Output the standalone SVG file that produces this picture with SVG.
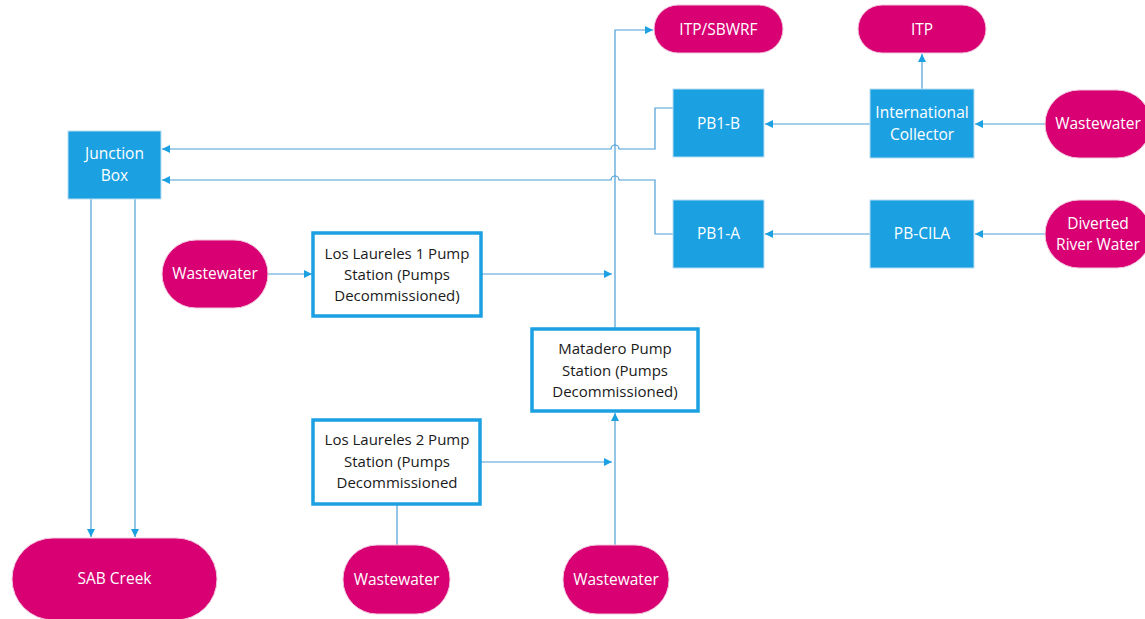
<svg xmlns="http://www.w3.org/2000/svg" width="1145" height="619" viewBox="0 0 1145 619">
<style>
.term{fill:#d80073;stroke:#f0c8dc;stroke-width:1}
.proc{fill:#1ba1e2;stroke:#b9dcf2;stroke-width:1}
.ps{fill:#ffffff;stroke:#1ba1e2;stroke-width:3.5}
.wt{font-family:"Open Sans","Liberation Sans",sans-serif;font-size:15.5px;fill:#ffffff;text-anchor:middle}
.dt{font-family:"Open Sans","Liberation Sans",sans-serif;font-size:15px;fill:#1a1a1a;text-anchor:middle}
.c{fill:none;stroke:#4a9ed6;stroke-width:1.2}
</style>
<defs>
<marker id="a" viewBox="0 0 10 10" refX="10" refY="5" markerWidth="9" markerHeight="8" markerUnits="userSpaceOnUse" orient="auto">
<path d="M0,0 L10,5 L0,10 z" fill="#1ba1e2"/>
</marker>
</defs>
<rect width="1145" height="619" fill="#ffffff"/>

<g id="connectors">
<path class="c" d="M615,328 V30 H653" marker-end="url(#a)"/>
<path class="c" d="M922,89 V54" marker-end="url(#a)"/>
<path class="c" d="M870,124 H765" marker-end="url(#a)"/>
<path class="c" d="M1045,124 H975" marker-end="url(#a)"/>
<path class="c" d="M870,234 H765" marker-end="url(#a)"/>
<path class="c" d="M1045,234 H975" marker-end="url(#a)"/>
<path class="c" d="M673,108 H655 V149 H619 A4,4 0 0 0 611,149 H162" marker-end="url(#a)"/>
<path class="c" d="M673,234 H655 V180 H619 A4,4 0 0 0 611,180 H162" marker-end="url(#a)"/>
<path class="c" d="M91,199 V537" marker-end="url(#a)"/>
<path class="c" d="M135,199 V537" marker-end="url(#a)"/>
<path class="c" d="M268,274 H312" marker-end="url(#a)"/>
<path class="c" d="M482,274 H612" marker-end="url(#a)"/>
<path class="c" d="M481,462 H612" marker-end="url(#a)"/>
<path class="c" d="M397,504 V545"/>
<path class="c" d="M615,545 V413" marker-end="url(#a)"/>
</g>

<g id="itp-sbwrf"><rect class="term" x="654" y="5" width="129" height="48" rx="24"/><text class="wt" x="718.5" y="34.5">ITP/SBWRF</text></g>
<g id="itp"><rect class="term" x="858" y="5" width="128" height="48" rx="24"/><text class="wt" x="922" y="34.5">ITP</text></g>
<g id="pb1-b"><rect class="proc" x="673" y="89" width="91" height="68"/><text class="wt" x="718.5" y="128.5">PB1-B</text></g>
<g id="intl-collector"><rect class="proc" x="870" y="89" width="104" height="69"/><text class="wt" x="922" y="118">International</text><text class="wt" x="922" y="139.5">Collector</text></g>
<g id="wastewater-ic"><rect class="term" x="1045" y="90" width="106" height="68" rx="34"/><text class="wt" x="1098" y="129">Wastewater</text></g>
<g id="pb1-a"><rect class="proc" x="673" y="200" width="91" height="68"/><text class="wt" x="718.5" y="239">PB1-A</text></g>
<g id="pb-cila"><rect class="proc" x="870" y="200" width="104" height="68"/><text class="wt" x="922" y="239">PB-CILA</text></g>
<g id="diverted"><rect class="term" x="1045" y="200" width="106" height="68" rx="34"/><text class="wt" x="1098" y="228.5">Diverted</text><text class="wt" x="1098" y="249.5">River Water</text></g>
<g id="junction-box"><rect class="proc" x="68" y="131" width="93" height="68"/><text class="wt" x="114.5" y="159">Junction</text><text class="wt" x="114.5" y="181">Box</text></g>
<g id="wastewater-ll1"><rect class="term" x="162" y="240" width="106" height="68" rx="34"/><text class="wt" x="215" y="279">Wastewater</text></g>
<g id="ll1"><rect class="ps" x="313" y="233" width="168" height="83"/><text class="dt" x="397" y="259">Los Laureles 1 Pump</text><text class="dt" x="397" y="280">Station (Pumps</text><text class="dt" x="397" y="301">Decommissioned)</text></g>
<g id="matadero"><rect class="ps" x="532" y="329" width="166" height="82"/><text class="dt" x="615" y="354">Matadero Pump</text><text class="dt" x="615" y="376">Station (Pumps</text><text class="dt" x="615" y="397">Decommissioned)</text></g>
<g id="ll2"><rect class="ps" x="313" y="420" width="167" height="84"/><text class="dt" x="397" y="445">Los Laureles 2 Pump</text><text class="dt" x="397" y="467">Station (Pumps</text><text class="dt" x="397" y="488">Decommissioned</text></g>
<g id="sab-creek"><rect class="term" x="12" y="538" width="205" height="82" rx="41"/><text class="wt" x="114.5" y="584">SAB Creek</text></g>
<g id="wastewater-ll2"><rect class="term" x="343" y="545" width="107" height="69" rx="34"/><text class="wt" x="396.5" y="584.5">Wastewater</text></g>
<g id="wastewater-mat"><rect class="term" x="563" y="545" width="106" height="69" rx="34"/><text class="wt" x="616" y="584.5">Wastewater</text></g>
</svg>
